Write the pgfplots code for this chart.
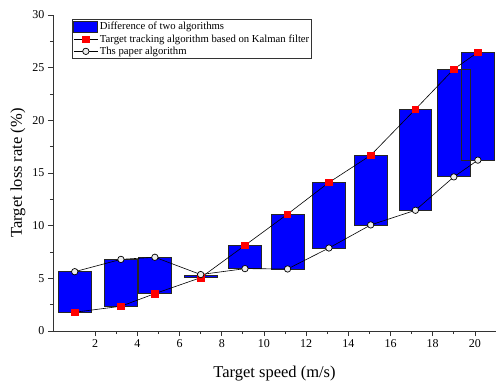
\documentclass[border=0pt]{standalone}
\usepackage{fontspec}
\setmainfont{Liberation Serif}
\usepackage{pgfplots}
\usepackage{pgfplotstable}
\pgfplotsset{compat=1.18}
\pgfplotsset{
  barlegend/.style={legend image code/.code={\draw[##1] (0pt,-5.5pt) rectangle (24pt,5.5pt);}},
  linelegend/.style={legend image code/.code={\draw[##1, mark repeat=2, mark phase=2] plot coordinates {(0pt,0pt) (12pt,0pt) (24pt,0pt)};}},
}
\pgfplotstableread{
x lo hi kal paper
1.03 1.78 5.63 1.78 5.63
3.22 2.35 6.80 2.35 6.80
4.83 3.55 7.00 3.55 7.00
7.00 5.06 5.30 5.06 5.36
9.10 5.92 8.13 8.13 5.92
11.12 5.89 11.10 11.10 5.89
13.08 7.88 14.10 14.10 7.88
15.06 10.07 16.68 16.68 10.07
17.18 11.46 21.05 21.05 11.46
19.00 14.63 24.86 24.86 14.63
20.14 16.22 26.46 26.46 16.22
}\data
\begin{document}
\begin{tikzpicture}
\begin{axis}[
  scale only axis,
  width=443pt, height=316pt,
  xmin=0, xmax=21, ymin=0, ymax=30,
  axis x line*=bottom, axis y line*=left,
  axis line style={black!80, line width=0.9pt},
  xtick={2,4,...,20}, ytick={0,5,...,30},
  minor x tick num=1, minor y tick num=1,
  tick align=outside,
  major tick length=5pt, minor tick length=3pt,
  tick style={black!80, line width=0.8pt},
  /pgf/number format/assume math mode=true,
  ticklabel style={font=\fontsize{12}{14}\selectfont},
  xlabel={Target speed (m/s)}, ylabel={Target loss rate (\%)},
  label style={font=\fontsize{16.5}{19}\selectfont},
  xlabel style={at={(axis description cs:0.5,0)}, anchor=center, yshift=-43pt},
  ylabel style={at={(axis description cs:0,0.5)}, anchor=center, yshift=35pt},
  legend style={at={(0.043,0.986)}, anchor=north west, draw=black!80, line width=0.8pt,
    font=\fontsize{10.7}{13}\selectfont, row sep=0pt, inner sep=1pt,
    nodes={inner sep=1.6pt}},
  legend cell align=left,
  clip=false,
]
\addplot[ybar, bar width=1.55, bar shift=0pt, stack plots=y, draw=none, fill=none, forget plot]
  table[x=x, y=lo] {\data};
\addplot[ybar, bar width=1.55, bar shift=0pt, stack plots=y, fill=blue, draw=black!85, line width=0.8pt, barlegend]
  table[x=x, y expr=\thisrow{hi}-\thisrow{lo}] {\data};
\addlegendentry{Difference of two algorithms}
\addplot[sharp plot, black, line width=0.6pt, mark=square*, mark size=3.2pt,
  mark options={fill=red, draw=red}, linelegend]
  table[x=x, y=kal] {\data};
\addlegendentry{Target tracking algorithm based on Kalman filter}
\addplot[sharp plot, black, line width=0.6pt, mark=*, mark size=3.2pt,
  mark options={fill=gray!15, draw=black, line width=0.7pt}, linelegend]
  table[x=x, y=paper] {\data};
\addlegendentry{Ths paper algorithm}
\coordinate (bl) at (rel axis cs:0,0);
\coordinate (tr) at (rel axis cs:1,1);
\end{axis}
\pgfresetboundingbox
\path ([shift={(-53pt,-51pt)}]bl) rectangle ([shift={(0pt,15pt)}]tr);
\end{tikzpicture}
\end{document}
